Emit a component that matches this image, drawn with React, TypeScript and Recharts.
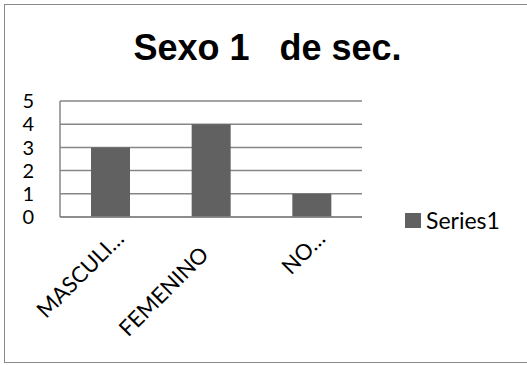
import { BarChart, Bar, XAxis, YAxis, CartesianGrid, Legend } from "recharts";

// valores
const categories = ["MASCULI…", "FEMENINO", "NO…"];
const series1 = [3, 4, 1];
const yTicks = [0, 1, 2, 3, 4, 5];
const seriesName = "Series1";
const title = "Sexo 1   de sec.";

const data = categories.map((name, i) => ({ name, [seriesName]: series1[i] }));

const bodyFont = "Lato, 'Open Sans', sans-serif";

function CategoryTick({ x, y, payload }: any) {
  const label = String(payload.value);
  // las etiquetas recortadas quedan algo más arriba/derecha
  const d = label.endsWith("…") ? 16 : 0;
  return (
    <text
      x={0}
      y={0}
      transform={`translate(${x - 1 + d}, ${y + 39 - d}) rotate(-45)`}
      textAnchor="end"
      fill="#000"
      fontSize={22}
      fontFamily={bodyFont}
    >
      {label}
    </text>
  );
}

const renderLegend = (props: any) => (
  <div style={{ display: "flex", alignItems: "center", fontFamily: bodyFont, fontSize: 23, color: "#000" }}>
    {(props.payload || []).map((entry: any) => (
      <span key={entry.value} style={{ display: "flex", alignItems: "center" }}>
        <span style={{ display: "inline-block", width: 16, height: 15, background: entry.color, marginRight: 5 }} />
        {entry.value}
      </span>
    ))}
  </div>
);

export default function App() {
  return (
    <div style={{ position: "absolute", left: 0, top: 0, width: 527, height: 365, background: "#fff", overflow: "hidden" }}>
      <div
        style={{
          position: "absolute",
          left: 4,
          top: 4,
          width: 535,
          height: 359,
          boxSizing: "border-box",
          border: "1.5px solid #8a8a8a",
        }}
      />
      <div
        style={{
          position: "absolute",
          left: 0,
          top: 29.5,
          width: 535,
          textAlign: "center",
          fontFamily: "'Liberation Sans', Arial, sans-serif",
          fontWeight: "bold",
          fontSize: 36,
          lineHeight: "36px",
          whiteSpace: "pre",
          color: "#000",
        }}
      >
        {title}
      </div>
      <BarChart
        width={527}
        height={365}
        data={data}
        margin={{ top: 101, right: 45, bottom: 118, left: 20 }}
        style={{ position: "absolute", left: 0, top: 0 }}
      >
        <CartesianGrid vertical={false} stroke="#868686" strokeWidth={1.5} />
        <XAxis
          dataKey="name"
          height={30}
          interval={0}
          tickLine={false}
          tickSize={0}
          tickMargin={0}
          axisLine={{ stroke: "#868686", strokeWidth: 1.5 }}
          tick={<CategoryTick />}
        />
        <YAxis
          width={40}
          domain={[0, 5]}
          ticks={yTicks}
          interval={0}
          tickLine={false}
          tickSize={0}
          tickMargin={26}
          axisLine={{ stroke: "#868686", strokeWidth: 1.5 }}
          tick={{ fill: "#000", fontSize: 20, fontFamily: bodyFont }}
        />
        <Legend
          content={renderLegend}
          layout="vertical"
          align="right"
          verticalAlign="middle"
          wrapperStyle={{ left: 405, top: 206, width: 120, height: 24 }}
        />
        <Bar dataKey={seriesName} fill="#616161" barSize={39} isAnimationActive={false} />
      </BarChart>
    </div>
  );
}
